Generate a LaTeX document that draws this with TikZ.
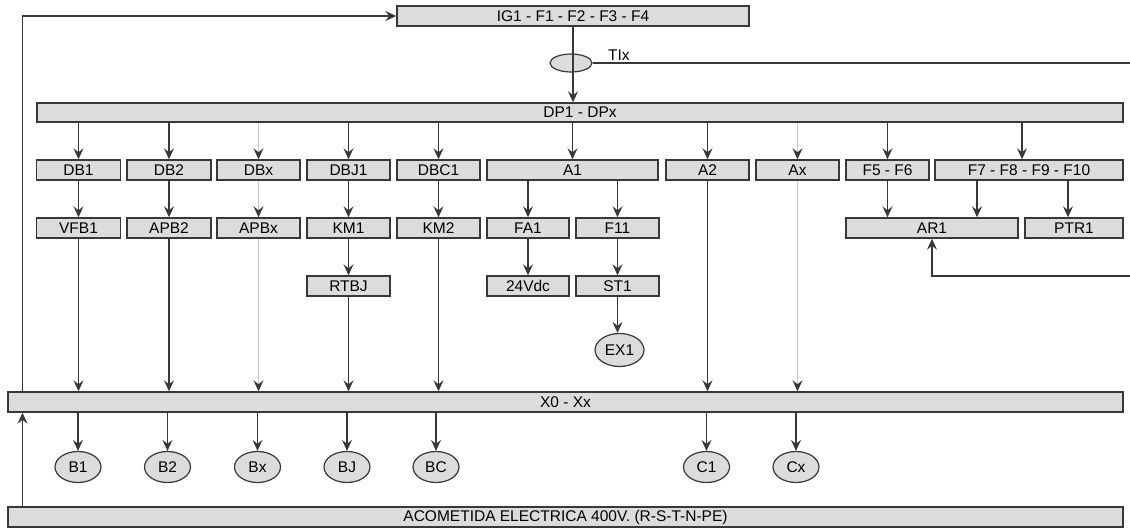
\documentclass[tikz,border=0pt]{standalone}
\usepackage{fontspec}
\setmainfont{Liberation Sans}
\usetikzlibrary{arrows.meta,shapes.geometric}

\definecolor{boxfill}{HTML}{DCDCDC}
\definecolor{boxline}{HTML}{383838}
\definecolor{faint}{HTML}{C8C8C8}

\tikzset{
  blk/.style={draw=boxline, fill=boxfill, line width=1.4pt, inner sep=0pt,
    minimum height=20, minimum width=83, text=black,
    font=\fontsize{15.5}{18}\selectfont},
  bus/.style={blk, minimum width=1115},
  oval/.style={ellipse, draw=boxline, fill=boxfill, line width=1.2pt, inner sep=0pt,
    minimum width=46, minimum height=31, text=black,
    font=\fontsize{15.5}{18}\selectfont},
  arr/.style={-{Stealth[length=11pt,width=10pt,inset=4pt]}, draw=boxline, line width=1.2pt},
  farr/.style={arr, draw=faint, -{Stealth[length=11pt,width=10pt,inset=4pt,color=boxline]}},
  wire/.style={draw=boxline, line width=1.2pt}
}

\begin{document}
\begin{tikzpicture}[x=1pt,y=-1pt]
\useasboundingbox (0,0) rectangle (1130,529);

% Main breaker and distribution bar
\node[blk, minimum width=352] (ig) at (573,16) {IG1 - F1 - F2 - F3 - F4};
\node[oval, minimum width=42, minimum height=18] (tix) at (571,63) {};
\node[blk, minimum width=1086, minimum height=19] (dp) at (580,112.5) {DP1 - DPx};

% First row
\node[blk, minimum width=84] (db1) at (78.5,170) {DB1};
\node[blk, minimum width=84] (db2) at (169,170) {DB2};
\node[blk] (dbx) at (258.5,170) {DBx};
\node[blk] (dbj) at (348.5,170) {DBJ1};
\node[blk] (dbc) at (438.5,170) {DBC1};
\node[blk, minimum width=171] (a1) at (572.5,170) {A1};
\node[blk] (a2) at (707.5,170) {A2};
\node[blk] (ax) at (797.5,170) {Ax};
\node[blk] (f56) at (887.5,170) {F5 - F6};
\node[blk, minimum width=188] (f710) at (1029,170) {F7 - F8 - F9 - F10};

% Second row
\node[blk, minimum width=84] (vfb) at (78.5,228) {VFB1};
\node[blk, minimum width=84] (apb2) at (169,228) {APB2};
\node[blk] (apbx) at (258.5,228) {APBx};
\node[blk] (km1) at (348.5,228) {KM1};
\node[blk] (km2) at (438.5,228) {KM2};
\node[blk, minimum width=82] (fa1) at (528,228) {FA1};
\node[blk] (f11) at (617.5,228) {F11};
\node[blk, minimum width=172] (ar1) at (932,228) {AR1};
\node[blk, minimum width=98] (ptr) at (1074,228) {PTR1};

% Third row
\node[blk] (rtbj) at (348.5,286) {RTBJ};
\node[blk, minimum width=82] (vdc) at (528,286) {24Vdc};
\node[blk] (st1) at (617.5,286) {ST1};
\node[oval, minimum width=49, minimum height=33] (ex1) at (619.5,350) {EX1};

% Terminal strip and supply
\node[bus] (x0) at (565.5,402) {X0 - Xx};
\node[bus] (acom) at (565.5,517) {ACOMETIDA ELECTRICA 400V. (R-S-T-N-PE)};

% Loads
\foreach \n/\t/\xx in {b1/B1/78, b2/B2/167.5, bx/Bx/257.5, bj/BJ/347, bc/BC/436, c1/C1/706.5, cx/Cx/796}
  \node[oval] (\n) at (\xx,467) {\t};

% Side lines
\coordinate (lft) at (22.5,0);
\coordinate (tixend) at (1130,63);
\coordinate (arfeed) at (1130,276);

\draw[arr] (x0.north -| lft) |- (ig.west);
\draw[arr] (acom.north -| lft) -- (x0.south -| lft);
\draw[wire] (tix.east) -- (tixend);
\node[anchor=base west, inner sep=0pt, text=black, font=\fontsize{15.5}{18}\selectfont] (tixlbl) at (608,61) {TIx};
\draw[arr] (ig.south) -- (dp.north -| ig.south);

% Feeders from DP1
\foreach \n in {db1,db2,dbj,dbc,a1,a2,f56}
  \draw[arr] (dp.south -| \n.north) -- (\n.north);
\draw[arr] (dp.south -| 1022,0) -- (f710.north -| 1022,0);
\foreach \n in {dbx,ax}
  \draw[farr] (dp.south -| \n.north) -- (\n.north);

% Down to second row
\foreach \a/\b in {db1/vfb,db2/apb2,dbj/km1,dbc/km2,km1/rtbj}
  \draw[arr] (\a.south) -- (\b.north);
\draw[farr] (dbx.south) -- (apbx.north);
\draw[arr] (a1.south -| fa1.north) -- (fa1.north);
\draw[arr] (a1.south -| f11.north) -- (f11.north);
\draw[arr] (fa1.south) -- (vdc.north);
\draw[arr] (f11.south) -- (st1.north);
\draw[arr] (st1.south) -- (st1.south |- ex1.north);
\draw[arr] (f56.south) -- (ar1.north -| f56.south);
\draw[arr] ([xshift=-52]f710.south) -- (ar1.north -| 977,0);
\draw[arr] ([xshift=39]f710.south) -- (ptr.north -| 1068,0);
\draw[arr] (arfeed) -| (ar1.south);

% Down to X0
\foreach \n in {vfb,apb2,rtbj,km2,a2}
  \draw[arr] (\n.south) -- (x0.north -| \n.south);
\foreach \n in {apbx,ax}
  \draw[farr] (\n.south) -- (x0.north -| \n.south);

% X0 to loads
\foreach \n in {b1,b2,bx,bj,bc,c1,cx}
  \draw[arr] (x0.south -| \n.north) -- (\n.north);

\end{tikzpicture}
\end{document}
